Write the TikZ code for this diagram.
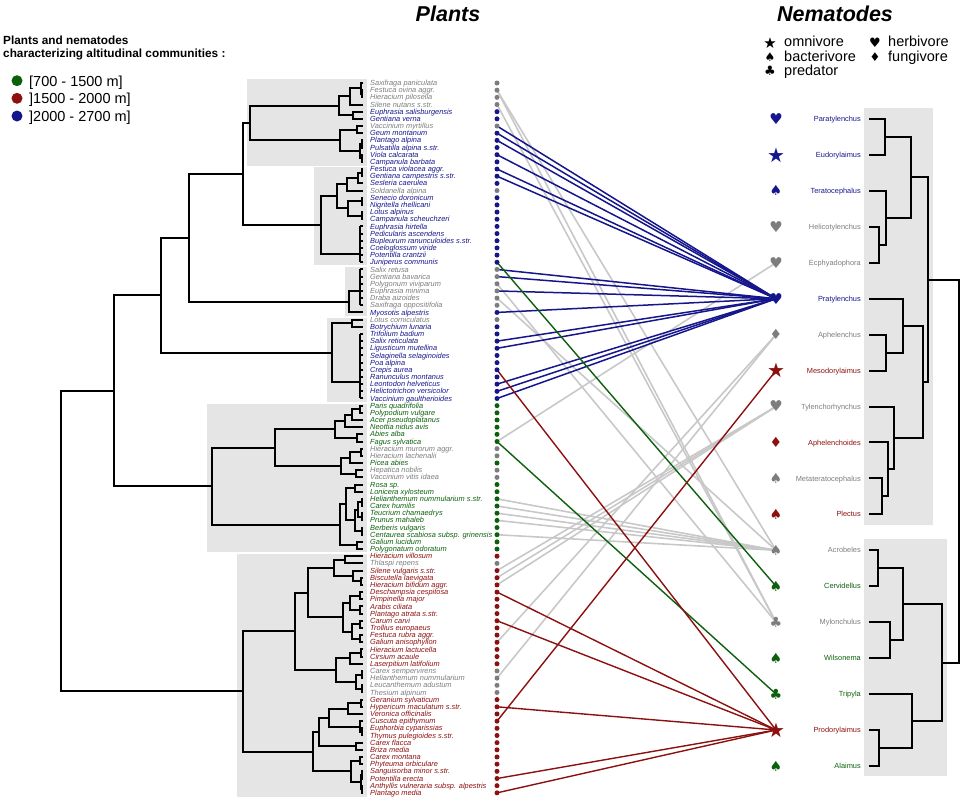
\documentclass[tikz,border=0pt]{standalone}
\usepackage{fontspec}
\setmainfont{Liberation Sans}
\newfontfamily\symf{DejaVu Sans}
\usetikzlibrary{calc}
\pgfdeclarelayer{bg}
\pgfsetlayers{bg,main}
\definecolor{pb}{RGB}{22,22,140}
\definecolor{pgr}{RGB}{12,96,12}
\definecolor{pr}{RGB}{140,16,16}
\definecolor{pg}{RGB}{125,125,125}
\definecolor{lg}{RGB}{200,200,200}
\definecolor{boxgray}{RGB}{229,229,229}
\tikzset{
  dend/.style={line width=2pt, draw=black, line join=miter},
  boxbg/.style={fill=boxgray, draw=none},
  pdot/.style={circle, inner sep=0pt, minimum size=5pt, draw=none},
  pname/.style={font=\fontsize{7.4}{8}\selectfont\itshape, inner sep=0pt, anchor=base west},
  nname/.style={font=\fontsize{7.4}{8}\selectfont, inner sep=0pt, anchor=base east},
  nsym/.style={inner sep=0pt},
  ttl/.style={font=\fontsize{21.5}{24}\selectfont\bfseries\itshape, inner sep=0pt, anchor=base},
  hdr/.style={font=\fontsize{11.8}{13}\selectfont\bfseries, inner sep=0pt, anchor=base west},
  leg/.style={font=\fontsize{14.5}{16}\selectfont, inner sep=0pt, anchor=base west},
  lsym/.style={inner sep=0pt, font=\symf\fontsize{15}{16}\selectfont},
  lcirc/.style={circle, inner sep=0pt, minimum size=11pt, draw=none},
  glin/.style={draw=lg, line width=1.6pt},
  blin/.style={draw=pb, line width=1.5pt},
  rlin/.style={draw=pr, line width=1.4pt},
  grlin/.style={draw=pgr, line width=1.4pt}
}
\newcommand\dendjoin[4]{%
  \path (#4,0) coordinate (jx);
  \coordinate (ja) at (#2 -| jx);
  \coordinate (jb) at (#3 -| jx);
  \draw[dend] (#2) -- (ja) -- (jb) -- (#3);
  \coordinate (#1) at ($(ja)!0.5!(jb)$);
}
\newcommand\dendcomb[5]{%
  \path (#4,0) coordinate (jx);
  \foreach \k in {#2,...,#3} \draw[dend] (L\k) -- (L\k -| jx);
  \draw[dend] (L#2 -| jx) -- (L#3 -| jx);
  \coordinate (#1) at (#4,#5);
}
\begin{document}
\begin{tikzpicture}[x=1pt,y=-1pt]
\useasboundingbox (0,0) rectangle (964,801);

% ---------- background boxes ----------
\begin{pgfonlayer}{bg}
\fill[boxbg] (247,79) rectangle (367,166);
\fill[boxbg] (314,167) rectangle (367,265);
\fill[boxbg] (345,267) rectangle (367,316);
\fill[boxbg] (327,318) rectangle (367,402);
\fill[boxbg] (207,404) rectangle (367,552);
\fill[boxbg] (237,554) rectangle (367,797);
\fill[boxbg] (864,108) rectangle (933,525);
\fill[boxbg] (864,539) rectangle (947,776);
\end{pgfonlayer}

% ---------- titles and legends ----------
\node[ttl] (tp) at (448,21) {Plants};
\node[ttl] (tn) at (835,21) {Nematodes};
\node[hdr] (h1) at (3,44.5) {Plants and nematodes};
\node[hdr] (h2) at (3,57.5) {characterizing altitudinal communities :};
\node[lcirc, fill=pgr] (c1) at (17,80.7) {};
\node[lcirc, fill=pr] (c2) at (17,98.3) {};
\node[lcirc, fill=pb] (c3) at (17,116) {};
\node[leg] (l1) at (29,86) {[700 - 1500 m]};
\node[leg] (l2) at (29,103.5) {]1500 - 2000 m]};
\node[leg] (l3) at (29,121) {]2000 - 2700 m]};

\node[lsym] (ls1) at (770,43) {★};
\node[lsym, font=\symf\fontsize{12}{13}\selectfont] (ls2) at (770,57) {♠};
\node[lsym, font=\symf\fontsize{13}{14}\selectfont] (ls3) at (770,71) {♣};
\node[lsym, font=\symf\fontsize{13}{14}\selectfont] (ls4) at (875,43) {♥};
\node[lsym, font=\symf\fontsize{12}{13}\selectfont] (ls5) at (875,57) {♦};
\node[leg] (lt1) at (784,46.7) {omnivore};
\node[leg] (lt2) at (784,61) {bacterivore};
\node[leg] (lt3) at (784,75.3) {predator};
\node[leg] (lt4) at (888,46.7) {herbivore};
\node[leg] (lt5) at (888,61) {fungivore};

% ---------- plants ----------
\foreach \nm/\cl [count=\i] in {
Saxifraga paniculata/pg, Festuca ovina aggr./pg, Hieracium pilosella/pg, Silene nutans s.str./pg,
Euphrasia salisburgensis/pb, Gentiana verna/pb, Vaccinium myrtillus/pg, Geum montanum/pb,
Plantago alpina/pb, Pulsatilla alpina s.str./pb, Viola calcarata/pb, Campanula barbata/pb,
Festuca violacea aggr./pb, Gentiana campestris s.str./pb, Sesleria caerulea/pb, Soldanella alpina/pg,
Senecio doronicum/pb, Nigritella rhellicani/pb, Lotus alpinus/pb, Campanula scheuchzeri/pb,
Euphrasia hirtella/pb, Pedicularis ascendens/pb, Bupleurum ranunculoides s.str./pb, Coeloglossum viride/pb,
Potentilla crantzii/pb, Juniperus communis/pb, Salix retusa/pg, Gentiana bavarica/pg,
Polygonum viviparum/pg, Euphrasia minima/pg, Draba aizoides/pg, Saxifraga oppositifolia/pg,
Myosotis alpestris/pb, Lotus corniculatus/pg, Botrychium lunaria/pb, Trifolium badium/pb,
Salix reticulata/pb, Ligusticum mutellina/pb, Selaginella selaginoides/pb, Poa alpina/pb,
Crepis aurea/pb, Ranunculus montanus/pb, Leontodon helveticus/pb, Helictotrichon versicolor/pb,
Vaccinium gaultherioides/pb, Paris quadrifolia/pgr, Polypodium vulgare/pgr, Acer pseudoplatanus/pgr,
Neottia nidus avis/pgr, Abies alba/pgr, Fagus sylvatica/pgr, Hieracium murorum aggr./pg,
Hieracium lachenalii/pg, Picea abies/pgr, Hepatica nobilis/pg, Vaccinium vitis idaea/pg,
Rosa sp./pgr, Lonicera xylosteum/pgr, Helianthemum nummularium s.str./pgr, Carex humilis/pgr,
Teucrium chamaedrys/pgr, Prunus mahaleb/pgr, Berberis vulgaris/pgr, Centaurea scabiosa subsp. grinensis/pgr,
Galium lucidum/pgr, Polygonatum odoratum/pgr, Hieracium villosum/pr, Thlaspi repens/pg,
Silene vulgaris s.str./pr, Biscutella laevigata/pr, Hieracium bifidum aggr./pr, Deschampsia cespitosa/pr,
Pimpinella major/pr, Arabis ciliata/pr, Plantago atrata s.str./pr, Carum carvi/pr,
Trollius europaeus/pr, Festuca rubra aggr./pr, Galium anisophyllon/pr, Hieracium lactucella/pr,
Cirsium acaule/pr, Laserpitium latifolium/pr, Carex sempervirens/pg, Helianthemum nummularium/pg,
Leucanthemum adustum/pg, Thesium alpinum/pg, Geranium sylvaticum/pr, Hypericum maculatum s.str./pr,
Veronica officinalis/pr, Cuscuta epithymum/pr, Euphorbia cyparissias/pr, Thymus pulegioides s.str./pr,
Carex flacca/pr, Briza media/pr, Carex montana/pr, Phyteuma orbiculare/pr,
Sanguisorba minor s.str./pr, Potentilla erecta/pr, Anthyllis vulneraria subsp. alpestris/pr, Plantago media/pr}
{
  \coordinate (L\i) at (363,{83+(\i-1)*7.17});
  \node[pdot, fill=\cl] (p\i) at (497,{83+(\i-1)*7.17}) {};
  \node[pname, text=\cl] (t\i) at (370,{83+(\i-1)*7.17+2.6}) {\nm};
}

% ---------- plant dendrogram ----------
\dendjoin{a1}{L2}{L3}{362}
\dendjoin{a2}{L1}{a1}{361}
\dendjoin{a3}{a2}{L4}{350}
\dendjoin{a4}{L5}{L6}{353}
\dendjoin{A1}{a3}{a4}{339}
\dendjoin{a5}{L7}{L8}{357}
\dendjoin{a6}{L9}{L10}{362}
\dendjoin{a7}{L11}{L12}{362}
\dendjoin{a8}{a6}{a7}{360}
\dendjoin{A2}{a5}{a8}{340}
\dendjoin{A}{A1}{A2}{250}
\dendjoin{b1}{L13}{L14}{362}
\dendjoin{b2}{b1}{L15}{358}
\dendjoin{b3}{b2}{L16}{347}
\dendjoin{b4}{L17}{L18}{362}
\dendjoin{b5}{L19}{L20}{362}
\dendjoin{b6}{b4}{b5}{348}
\dendjoin{b7}{b3}{b6}{337}
\dendcomb{b12}{21}{26}{360}{254}
\dendjoin{B}{b7}{b12}{321}
\dendjoin{AB}{A}{B}{243}
\dendcomb{c5}{27}{32}{360}{291}
\dendjoin{C}{c5}{L33}{349}
\dendjoin{ABC}{AB}{C}{189}
\dendjoin{d1}{L34}{L35}{352}
\dendcomb{d10}{36}{45}{360}{382}
\dendjoin{D}{d1}{d10}{332}
\dendjoin{ABCD}{ABC}{D}{161}
\dendjoin{e1}{L46}{L47}{360}
\dendjoin{e2}{e1}{L48}{352}
\dendjoin{e3}{e2}{L49}{345}
\dendjoin{e4}{L50}{L51}{357}
\dendjoin{e5}{e3}{e4}{335}
\dendjoin{e6}{L52}{L53}{361}
\dendjoin{e7}{e6}{L54}{350}
\dendjoin{e8}{L55}{L56}{356}
\dendjoin{e9}{e7}{e8}{341}
\dendjoin{E1}{e5}{e9}{275}
\dendjoin{e10}{L57}{L58}{355}
\dendjoin{e11}{L59}{L60}{362}
\dendjoin{e12}{L61}{L62}{362}
\dendjoin{e13}{e11}{e12}{358}
\dendjoin{e14}{L63}{L64}{362}
\dendjoin{e15}{e13}{e14}{355}
\dendjoin{e16}{e10}{e15}{346}
\dendjoin{e17}{L65}{L66}{357}
\dendjoin{E2}{e16}{e17}{340}
\dendjoin{E}{E1}{E2}{212}
\dendjoin{U}{ABCD}{E}{114}
\dendjoin{f1}{L67}{L68}{345}
\dendjoin{f2}{L70}{L71}{361}
\dendjoin{f3}{L69}{f2}{353}
\dendjoin{f4}{f1}{f3}{334}
\dendjoin{f5}{L72}{L73}{360}
\dendjoin{f6}{L74}{L75}{360}
\dendjoin{f7}{f5}{f6}{350}
\dendjoin{f8}{L76}{L77}{360}
\dendjoin{f9}{L78}{L79}{360}
\dendjoin{f10}{f8}{f9}{352}
\dendjoin{f11}{f7}{f10}{343}
\dendjoin{f12}{f4}{f11}{308}
\dendjoin{f13}{L80}{L81}{361}
\dendjoin{f14}{f13}{L82}{350}
\dendjoin{f15}{L83}{L84}{362}
\dendjoin{f16}{L85}{L86}{362}
\dendjoin{f17}{f15}{f16}{356}
\dendjoin{f18}{f14}{f17}{336}
\dendjoin{F1}{f12}{f18}{295}
\dendjoin{f19}{L87}{L88}{361}
\dendjoin{f20}{f19}{L89}{348}
\dendjoin{f21}{L91}{L92}{362}
\dendjoin{f22}{L90}{f21}{360}
\dendjoin{f23}{f20}{f22}{329}
\dendjoin{f24}{L93}{L94}{356}
\dendjoin{f25}{f23}{f24}{319}
\dendjoin{f26}{L95}{L96}{360}
\dendjoin{f27}{L97}{L98}{362}
\dendjoin{f28}{L99}{L100}{362}
\dendjoin{f29}{f27}{f28}{361}
\dendjoin{f30}{f26}{f29}{351}
\dendjoin{F2}{f25}{f30}{313}
\dendjoin{F}{F1}{F2}{243}
\dendjoin{R}{U}{F}{61}

% ---------- nematodes ----------
\foreach \nm/\cl/\sym/\sz [count=\j] in {
Paratylenchus/pb/♥/15, Eudorylaimus/pb/★/20, Teratocephalus/pb/♠/14, Helicotylenchus/pg/♥/15,
Ecphyadophora/pg/♥/15, Pratylenchus/pb/♥/15, Aphelenchus/pg/♦/14, Mesodorylaimus/pr/★/20,
Tylenchorhynchus/pg/♥/15, Aphelenchoides/pr/♦/14, Metateratocephalus/pg/♠/14, Plectus/pr/♠/14,
Acrobeles/pg/♠/14, Cervidellus/pgr/♠/14, Mylonchulus/pg/♣/14, Wilsonema/pgr/♠/14,
Tripyla/pgr/♣/14, Prodorylaimus/pr/★/20, Alaimus/pgr/♠/14}
{
  \coordinate (NL\j) at (869,{119+(\j-1)*35.94});
  \node[nsym, text=\cl, font={\symf\fontsize{\sz}{\sz}\selectfont}] (n\j) at (776,{119+(\j-1)*35.94}) {\sym};
  \node[nname, text=\cl] (nm\j) at (861,{119+(\j-1)*35.94+2.6}) {\nm};
}

% ---------- nematode dendrogram ----------
\dendjoin{t12}{NL1}{NL2}{885}
\dendjoin{t45}{NL4}{NL5}{879}
\dendjoin{t345}{NL3}{t45}{886}
\dendjoin{t15}{t12}{t345}{911}
\dendjoin{t78}{NL7}{NL8}{886}
\dendjoin{t678}{NL6}{t78}{903}
\dendjoin{t1112}{NL11}{NL12}{882}
\dendjoin{t1012}{NL10}{t1112}{888}
\dendjoin{t912}{NL9}{t1012}{894}
\dendjoin{t612}{t678}{t912}{923}
\dendjoin{t112}{t15}{t612}{928}
\dendjoin{t1314}{NL13}{NL14}{878}
\dendjoin{t1516}{NL15}{NL16}{890}
\dendjoin{t1316}{t1314}{t1516}{903}
\dendjoin{t1819}{NL18}{NL19}{879}
\dendjoin{t1719}{NL17}{t1819}{912}
\dendjoin{t1319}{t1316}{t1719}{942}
\dendjoin{troot}{t112}{t1319}{959}

% ---------- connectors ----------
\begin{pgfonlayer}{bg}
\foreach \a/\b in {2/13, 2/15, 4/15, 29/15, 31/13, 51/5, 59/13, 60/13, 61/13, 62/13, 64/13,
                   69/9, 70/9, 71/9, 79/7, 84/7}
  \draw[glin] (p\a.center) -- (n\b.center);
\foreach \a in {7, 8, 9, 11, 13, 14, 27, 28, 30, 33, 37, 38, 43, 44, 45}
  \draw[blin] (p\a.center) -- (n6.center);
\draw[grlin] (p26.center) -- (n14.center);
\draw[grlin] (p51.center) -- (n17.center);
\foreach \a in {41, 72, 76, 88, 98, 100}
  \draw[rlin] (p\a.center) -- (n18.center);
\draw[rlin] (p90.center) -- (n8.center);
\end{pgfonlayer}
\end{tikzpicture}
\end{document}
